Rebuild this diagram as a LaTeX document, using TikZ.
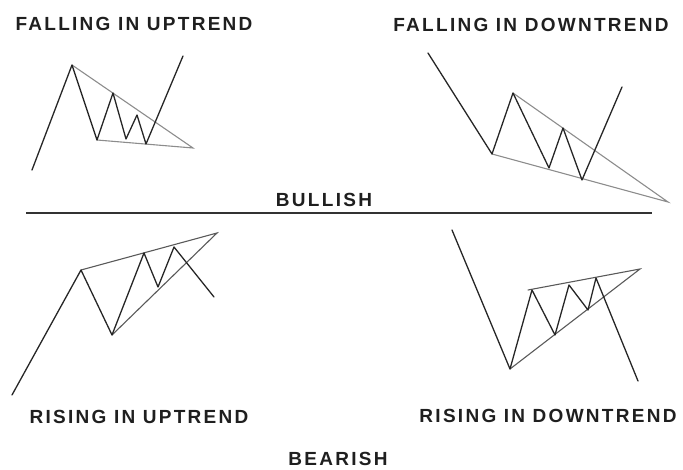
\documentclass[tikz,border=0pt]{standalone}
\usepackage{fontspec}
\newfontfamily\chartfont{Liberation Sans}[LetterSpace=12]
\usepackage{tikz}
\usetikzlibrary{positioning}

\begin{document}
\begin{tikzpicture}[x=1pt, y=-1pt,
    title/.style={font=\chartfont\bfseries\fontsize{19}{19}\selectfont, text=black!88, inner sep=0pt},
    price/.style={draw=black!85, line width=1.3pt, line join=round, line cap=round},
    trend/.style={draw=black!45, line width=1.1pt, line cap=round},
    trenddark/.style={draw=black!65, line width=1.1pt, line cap=round},
]
\useasboundingbox (0,0) rectangle (683,470);

% Falling in uptrend
\coordinate (fu0) at (32,170);
\coordinate (fu1) at (72,65);
\coordinate (fu2) at (97,140);
\coordinate (fu3) at (113,93);
\coordinate (fu4) at (126,139);
\coordinate (fu5) at (137,115);
\coordinate (fu6) at (146,144);
\coordinate (fu7) at (183,56);
\coordinate (fuapex) at (193,148);
\draw[trend] (fu1) -- (fuapex) -- (fu2);
\draw[price] (fu0) -- (fu1) -- (fu2) -- (fu3) -- (fu4) -- (fu5) -- (fu6) -- (fu7);

% Falling in downtrend
\coordinate (fd0) at (428,53);
\coordinate (fd1) at (492,154);
\coordinate (fd2) at (513,93);
\coordinate (fd3) at (549,168);
\coordinate (fd4) at (563,128);
\coordinate (fd5) at (582,180);
\coordinate (fd6) at (622,87);
\coordinate (fdapex) at (668,202);
\draw[trend] (fd2) -- (fdapex) -- (fd1);
\draw[price] (fd0) -- (fd1) -- (fd2) -- (fd3) -- (fd4) -- (fd5) -- (fd6);

% Divider
\coordinate (divl) at (26,213);
\coordinate (divr) at (652,213);
\draw[draw=black!80, line width=1.6pt] (divl) -- (divr);

% Rising in uptrend
\coordinate (ru0) at (12,395);
\coordinate (ru1) at (81,270);
\coordinate (ru2) at (112,335);
\coordinate (ru3) at (144,253);
\coordinate (ru4) at (158,287);
\coordinate (ru5) at (174,247);
\coordinate (ru6) at (214,297);
\coordinate (ruapex) at (217,233);
\draw[trenddark] (ru1) -- (ruapex) -- (ru2);
\draw[price] (ru0) -- (ru1) -- (ru2) -- (ru3) -- (ru4) -- (ru5) -- (ru6);

% Rising in downtrend
\coordinate (rd0) at (452,230);
\coordinate (rd1) at (510,369);
\coordinate (rd2) at (532,290);
\coordinate (rd3) at (555,335);
\coordinate (rd4) at (569,285);
\coordinate (rd5) at (588,310);
\coordinate (rd6) at (596,278);
\coordinate (rd7) at (638,381);
\coordinate (rdtop) at (528,290);
\coordinate (rdapex) at (640,269);
\draw[trenddark] (rdtop) -- (rdapex) -- (rd1);
\draw[price] (rd0) -- (rd1) -- (rd2) -- (rd3) -- (rd4) -- (rd5) -- (rd6) -- (rd7);

% Labels
\node[title] (fallup) at (134,24) {FALLING IN UPTREND};
\node[title] (falldown) at (531,25) {FALLING IN DOWNTREND};
\node[title] (bull) at (324,200) {BULLISH};
\node[title] (riseup) at (139,417) {RISING IN UPTREND};
\node[title] (risedown) at (548,416) {RISING IN DOWNTREND};
\node[title] (bear) at (338,459) {BEARISH};
\end{tikzpicture}
\end{document}
